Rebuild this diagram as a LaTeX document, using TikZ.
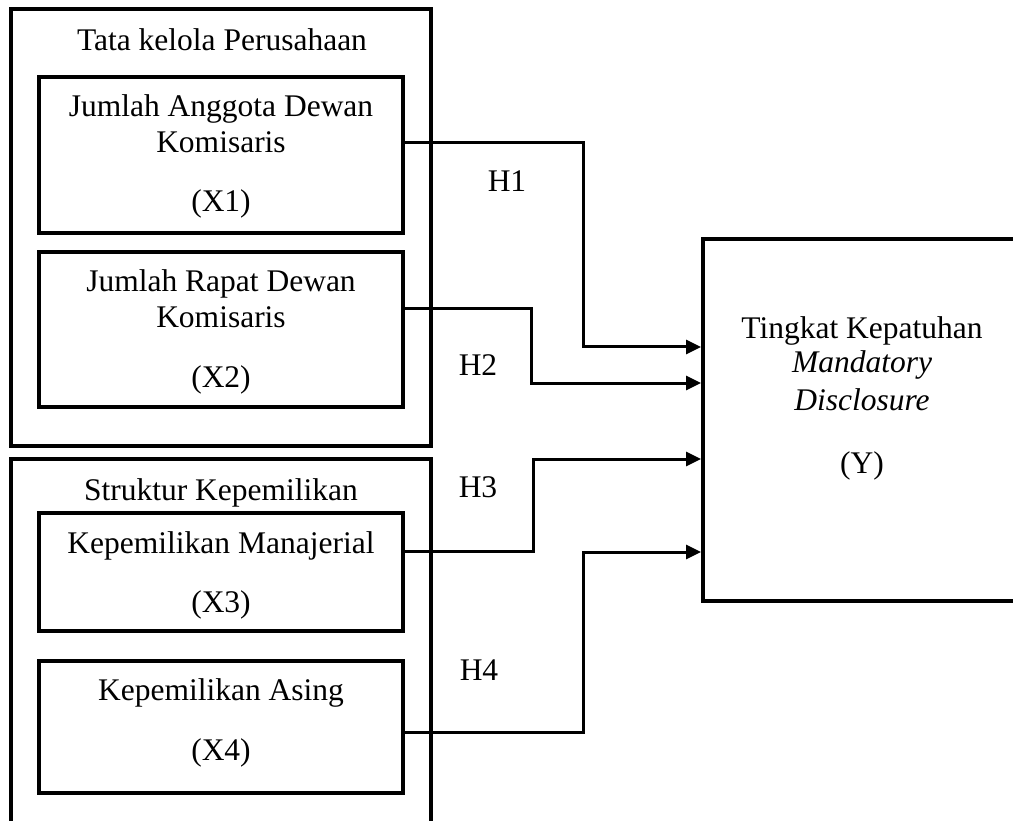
\documentclass[tikz,border=0pt]{standalone}
\usepackage{fontspec}
\setmainfont{Liberation Serif}
\usetikzlibrary{arrows.meta}
\begin{document}
\begin{tikzpicture}[x=1pt,y=-1pt,
  box/.style={draw=black,line width=4pt,rectangle,inner sep=0pt},
  conn/.style={draw=black,line width=3pt,-{Triangle[length=15pt,width=14pt]}},
  txt/.style={anchor=base,inner sep=0pt,font=\fontsize{31.5}{37.8}\selectfont}]
\useasboundingbox (0,0) rectangle (1013,821);
\clip (0,0) rectangle (1013,821);
% outer groups
\node[box,minimum width=420pt,minimum height=436.5pt] (g1) at (221,227.75) {};
\draw[line width=4pt] (11,840) -- (11,459) -- (431,459) -- (431,840);
\coordinate (g2) at (221,459);
% inner boxes
\node[box,minimum width=364pt,minimum height=156pt] (x1) at (221,155) {};
\node[box,minimum width=364pt,minimum height=155pt] (x2) at (221,329.5) {};
\node[box,minimum width=364pt,minimum height=118pt] (x3) at (221,572) {};
\node[box,minimum width=364pt,minimum height=132pt] (x4) at (221,727) {};
\node[box,minimum width=397pt,minimum height=362pt] (yb) at (901.5,420) {};
% texts
\node[txt] (t1) at (222,51) {Tata kelola Perusahaan};
\node[txt] (t2) at (221,117) {Jumlah Anggota Dewan};
\node[txt] (t3) at (221,153) {Komisaris};
\node[txt] (t4) at (221,212) {(X1)};
\node[txt] (t5) at (221,292) {Jumlah Rapat Dewan};
\node[txt] (t6) at (221,328) {Komisaris};
\node[txt] (t7) at (221,387) {(X2)};
\node[txt] (t8) at (221,500) {Struktur Kepemilikan};
\node[txt] (t9) at (221,553) {Kepemilikan Manajerial};
\node[txt] (t10) at (221,612) {(X3)};
\node[txt] (t11) at (221,700) {Kepemilikan Asing};
\node[txt] (t12) at (221,760) {(X4)};
\node[txt] (t13) at (862,338) {Tingkat Kepatuhan};
\node[txt] (t14) at (862,373) {\itshape Mandatory};
\node[txt] (t15) at (862,410) {\itshape Disclosure};
\node[txt] (t16) at (862,473) {(Y)};
\node[txt] (h1) at (507,192) {H1};
\node[txt] (h2) at (478,375) {H2};
\node[txt] (h3) at (478,497) {H3};
\node[txt] (h4) at (479,680) {H4};
% connector levels
\coordinate (a1) at (0,143);
\coordinate (a2) at (0,309);
\coordinate (a3) at (0,551);
\coordinate (a4) at (0,732);
\coordinate (b1) at (0,347);
\coordinate (b2) at (0,383);
\coordinate (b3) at (0,459);
\coordinate (b4) at (0,552);
\coordinate (k1) at (583,0);
\coordinate (k2) at (531,0);
\coordinate (k3) at (533,0);
\coordinate (k4) at (583,0);
\draw[conn] (x1.east |- a1) -- (k1 |- a1) -- (k1 |- b1) -- (yb.west |- b1);
\draw[conn] (x2.east |- a2) -- (k2 |- a2) -- (k2 |- b2) -- (yb.west |- b2);
\draw[conn] (x3.east |- a3) -- (k3 |- a3) -- (k3 |- b3) -- (yb.west |- b3);
\draw[conn] (x4.east |- a4) -- (k4 |- a4) -- (k4 |- b4) -- (yb.west |- b4);
\end{tikzpicture}
\end{document}
